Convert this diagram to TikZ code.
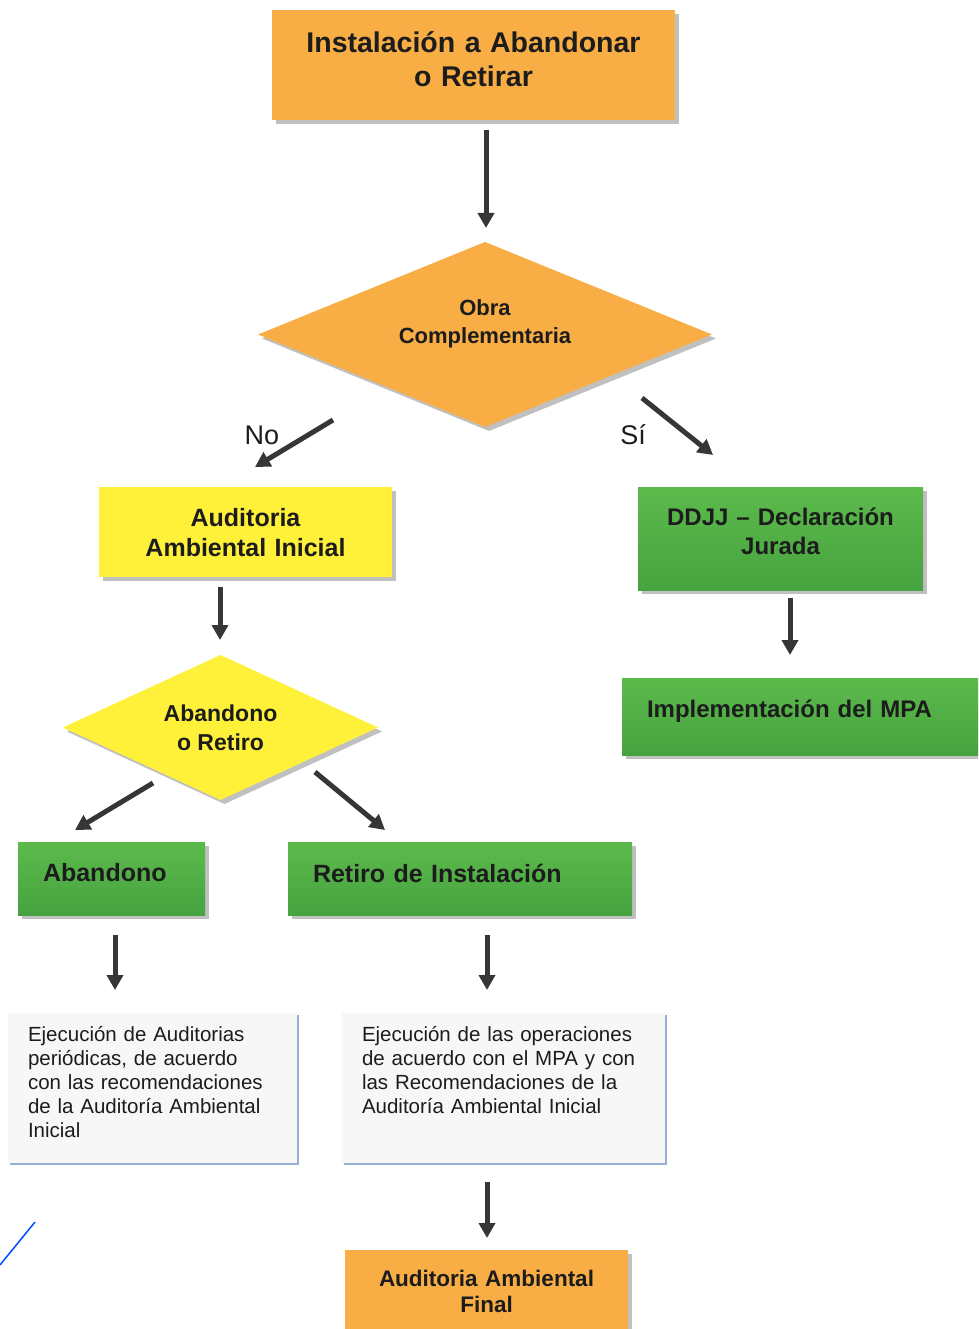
\documentclass[tikz,border=0pt]{standalone}
\usepackage{fontspec}
\setmainfont{Liberation Sans}
\usepackage{xcolor}
\usepackage{tikz}
\usetikzlibrary{positioning,shapes.geometric,arrows.meta,shadows}

\definecolor{naranja}{HTML}{F8AE45}
\definecolor{amarillo}{HTML}{FFF03A}
\definecolor{verdeA}{HTML}{5CBA4C}
\definecolor{verdeB}{HTML}{47A33F}
\definecolor{flecha}{HTML}{363636}
\definecolor{texto}{HTML}{1C1C1C}
\definecolor{borde}{HTML}{8EA6CF}

\begin{document}
\begin{tikzpicture}[
    x=1pt, y=-1pt,
    sombra/.style={drop shadow={shadow xshift=4pt, shadow yshift=-4pt, fill=black!55, opacity=.45}},
    box/.style={sombra, outer sep=0pt, inner sep=0pt, align=center, text=texto},
    naranjabox/.style={box, fill=naranja},
    amarillobox/.style={box, fill=amarillo},
    verdebox/.style={box, top color=verdeA, bottom color=verdeB},
    rombo/.style={shape=diamond, sombra, outer sep=0pt, inner sep=0pt, align=center, text=texto},
    blancobox/.style={outer sep=0pt, fill=black!3, text=texto, align=left,
      drop shadow={shadow xshift=2pt, shadow yshift=-2pt, fill=borde, opacity=.9},
      font=\fontsize{20.5}{24}\selectfont},
    rotulo/.style={text=texto, align=center, inner sep=0pt, font=\bfseries\fontsize{22}{28}\selectfont},
    etiq/.style={text=texto, inner sep=0pt, font=\fontsize{27}{30}\selectfont},
    arrow/.style={-{Triangle[length=15pt,width=16pt]}, line width=5pt, draw=flecha}
  ]
    \useasboundingbox (0,0) rectangle (978,1329);
    \clip (0,0) rectangle (978,1329);

    \node[naranjabox, text width=403pt, text height=43pt, text depth=67pt, font=\bfseries\fontsize{28.5}{34}\selectfont] (instal) at (473.5,65) {Instalación a Abandonar\\o Retirar};
    \node[rombo, fill=naranja, minimum width=454pt, minimum height=185pt, aspect=2.45,
      label={[rotulo, yshift=11pt]center:Obra\\Complementaria}] (obra) at (485,334.5) {};
    \node[etiq] (no) at (262,435) {No};
    \node[etiq] (si) at (633,435) {Sí};

    \node[amarillobox, text width=293pt, text height=39pt, text depth=51pt, font=\bfseries\fontsize{25}{30}\selectfont] (audini) at (245.5,532) {Auditoria\\Ambiental Inicial};
    \node[rombo, fill=amarillo, minimum width=315pt, minimum height=145pt, aspect=2.17, font=\bfseries\fontsize{23}{29}\selectfont] (abret) at (220.5,727.5) {Abandono\\o Retiro};
    \node[verdebox, text width=137pt, inner xsep=25pt, text height=39pt, text depth=34pt, align=left, font=\bfseries\fontsize{25}{30}\selectfont] (aband) at (111.5,878.5) {Abandono};
    \node[verdebox, text width=294pt, inner xsep=25pt, text height=40pt, text depth=33pt, align=left, font=\bfseries\fontsize{25}{30}\selectfont] (retiro) at (460,878.5) {Retiro de Instalación};

    \node[blancobox, anchor=north, text width=249pt, inner xsep=20pt, inner ysep=0pt, text height=28pt, text depth=122pt] (ejecaud) at (152.5,1013)
      {Ejecución de Auditorias\\periódicas, de acuerdo\\con las recomendaciones\\de la Auditoría Ambiental\\Inicial};
    \node[blancobox, anchor=north, text width=283pt, inner xsep=20pt, inner ysep=0pt, text height=28pt, text depth=122pt] (ejecop) at (503.5,1013)
      {Ejecución de las operaciones\\de acuerdo con el MPA y con\\las Recomendaciones de la\\Auditoría Ambiental Inicial};
    \node[naranjabox, text width=283pt, text height=36pt, text depth=48pt, font=\bfseries\fontsize{22.5}{26}\selectfont] (audfin) at (486.5,1292) {Auditoria Ambiental\\Final};

    \node[verdebox, text width=285pt, text height=38.6pt, text depth=64.4pt, font=\bfseries\fontsize{24}{29}\selectfont] (ddjj) at (780.5,538.5) {DDJJ – Declaración\\Jurada};
    \node[verdebox, text width=320pt, inner xsep=25pt, text height=39.6pt, text depth=37.4pt, align=left, font=\bfseries\fontsize{24}{29}\selectfont] (mpa) at (807,716.5) {Implementación del MPA};

    \draw[arrow] ([xshift=12.5pt,yshift=-10pt]instal.south) -- ([xshift=1pt,yshift=14pt]obra.north);
    \draw[arrow] ([xshift=-152pt,yshift=7pt]obra.south) -- ([xshift=9.5pt,yshift=20pt]audini.north);
    \draw[arrow] ([xshift=157pt,yshift=29pt]obra.south) -- ([xshift=-67.5pt,yshift=32pt]ddjj.north);
    \draw[arrow] ([xshift=-25.5pt,yshift=-10pt]audini.south) -- ([xshift=-0.5pt,yshift=15pt]abret.north);
    \draw[arrow] ([xshift=-67.5pt,yshift=17pt]abret.south) -- ([xshift=-36.5pt,yshift=12pt]aband.north);
    \draw[arrow] ([xshift=94.5pt,yshift=28pt]abret.south) -- ([xshift=-75pt,yshift=12pt]retiro.north);
    \draw[arrow] ([xshift=3.5pt,yshift=-20pt]aband.south) -- ([xshift=-37.5pt,yshift=23pt]ejecaud.north);
    \draw[arrow] ([xshift=27pt,yshift=-20pt]retiro.south) -- ([xshift=-16.5pt,yshift=23pt]ejecop.north);
    \draw[arrow] ([xshift=-16.5pt,yshift=-19pt]ejecop.south) -- ([xshift=0.5pt,yshift=12pt]audfin.north);
    \draw[arrow] ([xshift=9.5pt,yshift=-8pt]ddjj.south) -- ([xshift=-17pt,yshift=23pt]mpa.north);

    % trazo azul suelto
    \draw[blue!70!cyan, line width=1.5pt] (0,1265) -- (35,1222);
  \end{tikzpicture}
\end{document}
